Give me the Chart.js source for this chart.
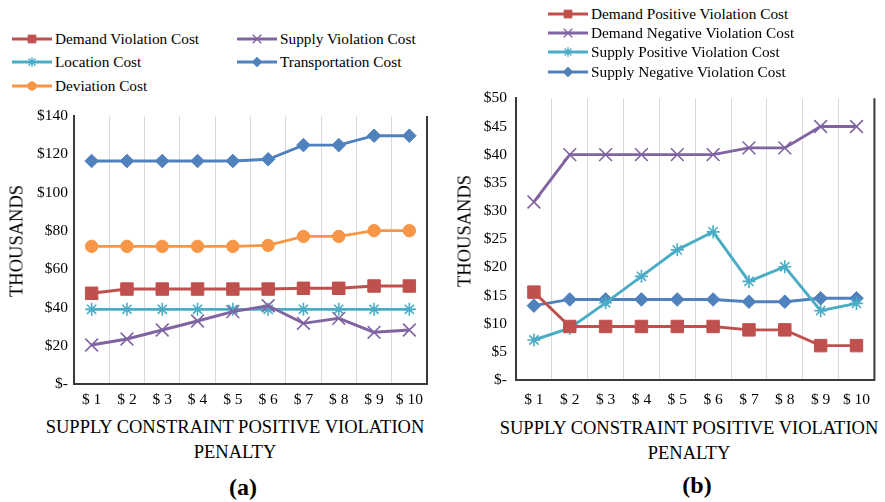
<!DOCTYPE html>
<html>
<head>
<meta charset="utf-8">
<script src="https://cdn.jsdelivr.net/npm/chart.js@4.4.0/dist/chart.umd.min.js"></script>
<style>
  body { margin: 0; width: 885px; height: 502px; background: #fff; position: relative; overflow: hidden;
         font-family: "Liberation Serif", "Times New Roman", serif; color: #000; }
  canvas.plot { position: absolute; }
  .leg { position: absolute; height: 16px; display: flex; align-items: center; font-size: 15.3px; white-space: nowrap; }
  .leg canvas { margin-right: 3px; }
  .xt { position: absolute; font-size: 18.5px; line-height: 24.5px; text-align: center; white-space: nowrap; transform: translateX(-50%); }
  .yt { position: absolute; font-size: 18.5px; white-space: nowrap; transform: translate(-50%, -50%) rotate(-90deg); }
  .cap { position: absolute; font-size: 24px; font-weight: bold; transform: translate(-50%, -50%); }
</style>
</head>
<body>
<canvas id="chartA" class="plot" width="440" height="310" style="left:0;top:100px"></canvas>
<canvas id="chartB" class="plot" width="430" height="330" style="left:455px;top:80px"></canvas>

<div class="yt" style="left:17px;top:241px">THOUSANDS</div>
<div class="yt" style="left:465px;top:231px">THOUSANDS</div>
<div class="xt" style="left:235px;top:415px">SUPPLY CONSTRAINT POSITIVE VIOLATION<br>PENALTY</div>
<div class="xt" style="left:689px;top:416px">SUPPLY CONSTRAINT POSITIVE VIOLATION<br>PENALTY</div>
<div class="cap" style="left:243px;top:487px">(a)</div>
<div class="cap" style="left:697px;top:485px">(b)</div>

<script>
// Penalty levels on the x axis
const categories = ['$ 1', '$ 2', '$ 3', '$ 4', '$ 5', '$ 6', '$ 7', '$ 8', '$ 9', '$ 10'];

// Panel (a): cost components, in thousands of dollars
const demandViolationCost = [47.4, 49.6, 49.6, 49.6, 49.6, 49.6, 50.0, 50.0, 51.2, 51.2];
const supplyViolationCost = [20.4, 23.5, 28.2, 32.9, 37.8, 40.9, 31.7, 34.3, 27.0, 28.2];
const locationCost        = [39.0, 39.0, 39.0, 39.0, 39.0, 39.0, 39.0, 39.0, 39.0, 39.0];
const transportationCost  = [116.5, 116.5, 116.5, 116.5, 116.5, 117.4, 124.8, 124.8, 129.7, 129.7];
const deviationCost       = [71.9, 71.9, 71.9, 71.9, 71.9, 72.4, 77.1, 77.1, 80.1, 80.1];
const yTicksA = [0, 20, 40, 60, 80, 100, 120, 140];

// Panel (b): violation costs, in thousands of dollars
const demandPositiveCost = [15.6, 9.5, 9.5, 9.5, 9.5, 9.5, 8.9, 8.9, 6.1, 6.1];
const demandNegativeCost = [31.6, 40.0, 40.0, 40.0, 40.0, 40.0, 41.2, 41.2, 45.0, 45.0];
const supplyPositiveCost = [7.1, 9.2, 13.7, 18.4, 23.1, 26.3, 17.5, 20.1, 12.3, 13.6];
const supplyNegativeCost = [13.2, 14.3, 14.3, 14.3, 14.3, 14.3, 13.9, 13.9, 14.5, 14.5];
const yTicksB = [0, 5, 10, 15, 20, 25, 30, 35, 40, 45, 50];

const RED = '#C0504D', PURPLE = '#8064A2', CYAN = '#4BACC6', BLUE = '#4F81BD', ORANGE = '#F79646';
const FONT = '"Liberation Serif", "Times New Roman", serif';

// marker styles: chart size and legend size
const markers = {
  square:  { pointStyle: 'rect',     r: 8.8, lr: 5.5, fill: true },
  xmark:   { pointStyle: 'crossRot', r: 9,   lr: 6,   fill: false },
  star:    { pointStyle: 'star',     r: 6.5, lr: 4.8, fill: false },
  diamond: { pointStyle: 'rectRot',  r: 6.8, lr: 4.8, fill: true },
  circle:  { pointStyle: 'circle',   r: 6.2, lr: 4.2, fill: true }
};

function series(label, data, color, marker) {
  const m = markers[marker];
  return {
    label, data,
    borderColor: color, backgroundColor: color, borderWidth: 2.9,
    pointStyle: m.pointStyle, pointRadius: m.r, pointHoverRadius: m.r,
    pointBorderColor: color, pointBackgroundColor: color,
    pointBorderWidth: m.fill ? 1 : 1.6,
    tension: 0, fill: false
  };
}

// dark frame line on the right of the plot area
const plotFrame = {
  id: 'plotFrame',
  afterDraw(chart) {
    const { ctx, chartArea: a } = chart;
    ctx.save();
    ctx.strokeStyle = '#3A3A3A';
    ctx.lineWidth = 2;
    ctx.beginPath();
    ctx.moveTo(a.right, a.top);
    ctx.lineTo(a.right, a.bottom + 1);
    ctx.stroke();
    ctx.restore();
  }
};

function makeChart(id, datasets, yTicks, yWidth, xHeight, pad, xTickPad, yTickPad) {
  const yMax = yTicks[yTicks.length - 1];
  const step = yTicks[1] - yTicks[0];
  return new Chart(document.getElementById(id), {
    type: 'line',
    data: { labels: categories, datasets },
    options: {
      responsive: false,
      animation: false,
      layout: { padding: pad },
      plugins: { legend: { display: false }, tooltip: { enabled: false } },
      scales: {
        x: {
          offset: true,
          grid: { offset: true, color: '#D9D9D9', lineWidth: 1, drawTicks: false },
          border: { color: '#3A3A3A', width: 2 },
          ticks: { color: '#000', font: { family: FONT, size: 15.5 }, padding: xTickPad, maxRotation: 0, autoSkip: false },
          afterFit(s) { s.height = xHeight; }
        },
        y: {
          min: 0, max: yMax,
          grid: { display: false, drawTicks: false },
          border: { color: '#3A3A3A', width: 2 },
          ticks: {
            stepSize: step, color: '#000', font: { family: FONT, size: 15.5 }, padding: yTickPad,
            callback: v => (v === 0 ? '$-' : '$' + v)
          },
          afterFit(s) { s.width = yWidth; }
        }
      }
    },
    plugins: [plotFrame]
  });
}

makeChart('chartA', [
  series('Demand Violation Cost', demandViolationCost, RED, 'square'),
  series('Supply Violation Cost', supplyViolationCost, PURPLE, 'xmark'),
  series('Location Cost', locationCost, CYAN, 'star'),
  series('Transportation Cost', transportationCost, BLUE, 'diamond'),
  series('Deviation Cost', deviationCost, ORANGE, 'circle')
], yTicksA, 74, 26, { top: 16, right: 13, left: 0, bottom: 0 }, 7, 6);

makeChart('chartB', [
  series('Demand Positive Violation Cost', demandPositiveCost, RED, 'square'),
  series('Demand Negative Violation Cost', demandNegativeCost, PURPLE, 'xmark'),
  series('Supply Positive Violation Cost', supplyPositiveCost, CYAN, 'star'),
  series('Supply Negative Violation Cost', supplyNegativeCost, BLUE, 'diamond')
], yTicksB, 61, 30, { top: 14, right: 3, left: 0, bottom: 0 }, 11, 9);

// legends: line sample with marker, drawn through Chart.js point helper
function legendItem(x, y, label, color, marker) {
  const m = markers[marker];
  const div = document.createElement('div');
  div.className = 'leg';
  div.style.left = x + 'px';
  div.style.top = (y - 8) + 'px';
  const c = document.createElement('canvas');
  c.width = 40; c.height = 16;
  const ctx = c.getContext('2d');
  ctx.strokeStyle = color;
  ctx.lineWidth = 3;
  ctx.beginPath(); ctx.moveTo(0, 8); ctx.lineTo(40, 8); ctx.stroke();
  ctx.fillStyle = color;
  ctx.lineWidth = m.fill ? 1 : 1.4;
  Chart.helpers.drawPoint(ctx, { pointStyle: m.pointStyle, radius: m.lr, rotation: 0, borderWidth: ctx.lineWidth }, 20, 8);
  div.appendChild(c);
  div.appendChild(document.createTextNode(label));
  document.body.appendChild(div);
}

legendItem(12, 39, 'Demand Violation Cost', RED, 'square');
legendItem(237, 39, 'Supply Violation Cost', PURPLE, 'xmark');
legendItem(12, 62, 'Location Cost', CYAN, 'star');
legendItem(237, 62, 'Transportation Cost', BLUE, 'diamond');
legendItem(12, 86, 'Deviation Cost', ORANGE, 'circle');

legendItem(548, 14, 'Demand Positive Violation Cost', RED, 'square');
legendItem(548, 33, 'Demand Negative Violation Cost', PURPLE, 'xmark');
legendItem(548, 52, 'Supply Positive Violation Cost', CYAN, 'star');
legendItem(548, 72, 'Supply Negative Violation Cost', BLUE, 'diamond');
</script>
</body>
</html>
